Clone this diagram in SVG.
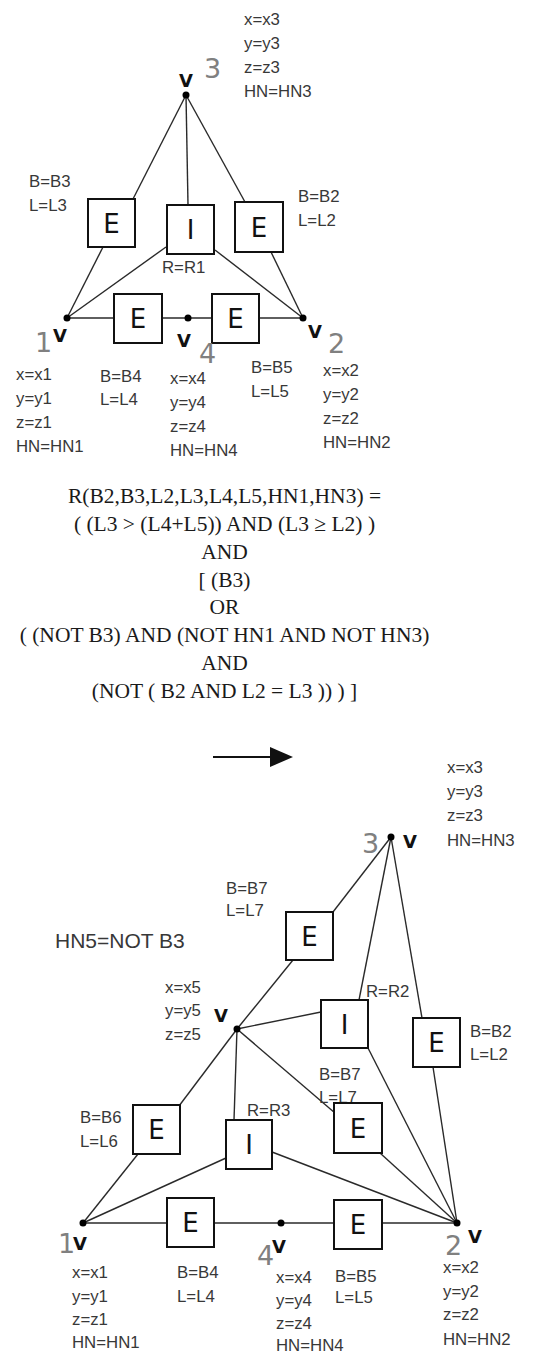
<svg xmlns="http://www.w3.org/2000/svg" width="555" height="1354" viewBox="0 0 555 1354">
  <style>
    .edge { stroke: #2a2a2a; stroke-width: 1.4; fill: none; }
    .box { fill: #ffffff; stroke: #111111; stroke-width: 2; }
    .glyph { font-family: "DejaVu Sans", sans-serif; font-size: 26px; fill: #111111; text-anchor: middle; }
    .attr { font-family: "Liberation Sans", Arial, sans-serif; font-size: 16.8px; fill: #383838; }
    .vtx { font-family: "DejaVu Sans", sans-serif; font-size: 18px; font-weight: bold; fill: #111111; text-anchor: middle; }
    .num { font-family: "DejaVu Sans", sans-serif; font-size: 27px; fill: #808080; }
    .dot { fill: #000000; }
    .rule { font-family: "Liberation Serif", "Times New Roman", serif; font-size: 21.5px; fill: #1a1a1a; text-anchor: middle; }
  </style>

  <!-- ===== Left-hand side of the production ===== -->
  <g id="lhs-edges">
    <line class="edge" x1="186" y1="95" x2="133" y2="199"/>
    <line class="edge" x1="186" y1="95" x2="188" y2="205"/>
    <line class="edge" x1="186" y1="95" x2="245" y2="202"/>
    <line class="edge" x1="103" y1="247" x2="67" y2="318"/>
    <line class="edge" x1="166" y1="247" x2="67" y2="318"/>
    <line class="edge" x1="215" y1="250" x2="303" y2="318"/>
    <line class="edge" x1="271" y1="252" x2="303" y2="318"/>
    <line class="edge" x1="67" y1="318" x2="303" y2="318"/>
  </g>

  <g id="lhs-v3">
    <circle class="dot" cx="186" cy="95" r="3.5"/>
    <text class="vtx" x="186" y="87">V</text>
    <text class="num" x="204" y="78">3</text>
    <text class="attr" x="244" y="25">x=x3</text>
    <text class="attr" x="244" y="49">y=y3</text>
    <text class="attr" x="244" y="73">z=z3</text>
    <text class="attr" x="244" y="97">HN=HN3</text>
  </g>

  <g id="lhs-e3">
    <rect class="box" x="88" y="199" width="47" height="48"/>
    <text class="glyph" x="111.5" y="232.5">E</text>
    <text class="attr" x="29" y="187">B=B3</text>
    <text class="attr" x="29" y="211">L=L3</text>
  </g>

  <g id="lhs-i1">
    <rect class="box" x="167" y="205" width="47" height="49"/>
    <text class="glyph" x="190.5" y="239">I</text>
    <text class="attr" x="162" y="273">R=R1</text>
  </g>

  <g id="lhs-e2">
    <rect class="box" x="235" y="202" width="48" height="50"/>
    <text class="glyph" x="259" y="236.5">E</text>
    <text class="attr" x="298" y="202">B=B2</text>
    <text class="attr" x="298" y="226">L=L2</text>
  </g>

  <g id="lhs-e4">
    <rect class="box" x="114" y="294" width="48" height="49"/>
    <text class="glyph" x="138" y="328">E</text>
    <text class="attr" x="100" y="382">B=B4</text>
    <text class="attr" x="100" y="405">L=L4</text>
  </g>

  <g id="lhs-e5">
    <rect class="box" x="212" y="294" width="47" height="49"/>
    <text class="glyph" x="235.5" y="328">E</text>
    <text class="attr" x="251" y="373">B=B5</text>
    <text class="attr" x="251" y="397">L=L5</text>
  </g>

  <g id="lhs-v1">
    <circle class="dot" cx="67" cy="318" r="3.5"/>
    <text class="vtx" x="60" y="342">V</text>
    <text class="num" x="35" y="352">1</text>
    <text class="attr" x="16" y="380">x=x1</text>
    <text class="attr" x="16" y="404">y=y1</text>
    <text class="attr" x="16" y="428">z=z1</text>
    <text class="attr" x="16" y="452">HN=HN1</text>
  </g>

  <g id="lhs-v4">
    <circle class="dot" cx="188" cy="318" r="3.5"/>
    <text class="vtx" x="184" y="347">V</text>
    <text class="num" x="199" y="363">4</text>
    <text class="attr" x="170" y="384">x=x4</text>
    <text class="attr" x="170" y="408">y=y4</text>
    <text class="attr" x="170" y="432">z=z4</text>
    <text class="attr" x="170" y="456">HN=HN4</text>
  </g>

  <g id="lhs-v2">
    <circle class="dot" cx="303" cy="318" r="3.5"/>
    <text class="vtx" x="315" y="338">V</text>
    <text class="num" x="328" y="353">2</text>
    <text class="attr" x="323" y="376">x=x2</text>
    <text class="attr" x="323" y="400">y=y2</text>
    <text class="attr" x="323" y="424">z=z2</text>
    <text class="attr" x="323" y="448">HN=HN2</text>
  </g>

  <!-- ===== Applicability predicate ===== -->
  <g id="predicate">
    <text class="rule" x="224.5" y="503">R(B2,B3,L2,L3,L4,L5,HN1,HN3) =</text>
    <text class="rule" x="224.5" y="531">( (L3 &gt; (L4+L5)) AND (L3 ≥ L2) )</text>
    <text class="rule" x="224.5" y="559">AND</text>
    <text class="rule" x="224.5" y="587">[ (B3)</text>
    <text class="rule" x="224.5" y="614">OR</text>
    <text class="rule" x="224.5" y="642">( (NOT B3) AND (NOT HN1 AND NOT HN3)</text>
    <text class="rule" x="224.5" y="670">AND</text>
    <text class="rule" x="224.5" y="698">(NOT ( B2 AND L2 = L3 )) ) ]</text>
  </g>

  <!-- production arrow -->
  <g id="arrow">
    <line x1="213" y1="757" x2="272" y2="757" stroke="#111111" stroke-width="2"/>
    <polygon points="270,747 293,757 270,767" fill="#111111"/>
  </g>

  <!-- ===== Right-hand side of the production ===== -->
  <g id="rhs-edges">
    <line class="edge" x1="391" y1="837" x2="333" y2="912"/>
    <line class="edge" x1="391" y1="837" x2="359" y2="1000"/>
    <line class="edge" x1="391" y1="837" x2="422" y2="1018"/>
    <line class="edge" x1="293" y1="960" x2="237" y2="1029"/>
    <line class="edge" x1="237" y1="1029" x2="321" y2="1012"/>
    <line class="edge" x1="237" y1="1029" x2="335" y2="1113"/>
    <line class="edge" x1="237" y1="1029" x2="234" y2="1120"/>
    <line class="edge" x1="237" y1="1029" x2="179" y2="1106"/>
    <line class="edge" x1="368" y1="1048" x2="457" y2="1223"/>
    <line class="edge" x1="433" y1="1067" x2="457" y2="1223"/>
    <line class="edge" x1="138" y1="1154" x2="83" y2="1223"/>
    <line class="edge" x1="226" y1="1158" x2="83" y2="1223"/>
    <line class="edge" x1="272" y1="1152" x2="457" y2="1223"/>
    <line class="edge" x1="380" y1="1153" x2="457" y2="1223"/>
    <line class="edge" x1="83" y1="1223" x2="457" y2="1223"/>
  </g>

  <text class="attr" x="55" y="948" style="font-size:21px">HN5=NOT B3</text>

  <g id="rhs-v3">
    <circle class="dot" cx="391" cy="837" r="3.5"/>
    <text class="vtx" x="410" y="848">V</text>
    <text class="num" x="362" y="853">3</text>
    <text class="attr" x="447" y="773">x=x3</text>
    <text class="attr" x="447" y="797">y=y3</text>
    <text class="attr" x="447" y="821">z=z3</text>
    <text class="attr" x="447" y="846">HN=HN3</text>
  </g>

  <g id="rhs-e7a">
    <rect class="box" x="286" y="912" width="47" height="48"/>
    <text class="glyph" x="309.5" y="945.5">E</text>
    <text class="attr" x="226" y="894">B=B7</text>
    <text class="attr" x="226" y="916">L=L7</text>
  </g>

  <g id="rhs-v5">
    <circle class="dot" cx="237" cy="1029" r="3.5"/>
    <text class="vtx" x="221" y="1022">V</text>
    <text class="attr" x="165" y="993">x=x5</text>
    <text class="attr" x="165" y="1016">y=y5</text>
    <text class="attr" x="165" y="1040">z=z5</text>
  </g>

  <g id="rhs-i2">
    <rect class="box" x="321" y="1000" width="47" height="48"/>
    <text class="glyph" x="344.5" y="1033.5">I</text>
    <text class="attr" x="366" y="997">R=R2</text>
  </g>

  <g id="rhs-e2">
    <rect class="box" x="413" y="1018" width="47" height="49"/>
    <text class="glyph" x="436.5" y="1052">E</text>
    <text class="attr" x="470" y="1037">B=B2</text>
    <text class="attr" x="470" y="1060">L=L2</text>
  </g>

  <g id="rhs-e7b">
    <text class="attr" x="319" y="1080">B=B7</text>
    <text class="attr" x="319" y="1103">L=L7</text>
    <rect class="box" x="334" y="1103" width="48" height="50"/>
    <text class="glyph" x="358" y="1137.5">E</text>
  </g>

  <g id="rhs-e6">
    <rect class="box" x="133" y="1105" width="47" height="49"/>
    <text class="glyph" x="156.5" y="1139">E</text>
    <text class="attr" x="80" y="1123">B=B6</text>
    <text class="attr" x="80" y="1147">L=L6</text>
  </g>

  <g id="rhs-i3">
    <rect class="box" x="226" y="1120" width="46" height="49"/>
    <text class="glyph" x="249" y="1154">I</text>
    <text class="attr" x="247" y="1116">R=R3</text>
  </g>

  <g id="rhs-e4">
    <rect class="box" x="167" y="1198" width="47" height="49"/>
    <text class="glyph" x="190.5" y="1232">E</text>
    <text class="attr" x="177" y="1278">B=B4</text>
    <text class="attr" x="177" y="1302">L=L4</text>
  </g>

  <g id="rhs-e5">
    <rect class="box" x="334" y="1200" width="48" height="49"/>
    <text class="glyph" x="358" y="1234">E</text>
    <text class="attr" x="335" y="1282">B=B5</text>
    <text class="attr" x="335" y="1303">L=L5</text>
  </g>

  <g id="rhs-v1">
    <circle class="dot" cx="83" cy="1223" r="3.5"/>
    <text class="vtx" x="80" y="1250">V</text>
    <text class="num" x="58" y="1253">1</text>
    <text class="attr" x="72" y="1278">x=x1</text>
    <text class="attr" x="72" y="1302">y=y1</text>
    <text class="attr" x="72" y="1325">z=z1</text>
    <text class="attr" x="72" y="1348">HN=HN1</text>
  </g>

  <g id="rhs-v4">
    <circle class="dot" cx="281" cy="1223" r="3.5"/>
    <text class="vtx" x="279" y="1253">V</text>
    <text class="num" x="257" y="1265">4</text>
    <text class="attr" x="276" y="1283">x=x4</text>
    <text class="attr" x="276" y="1306">y=y4</text>
    <text class="attr" x="276" y="1329">z=z4</text>
    <text class="attr" x="276" y="1351">HN=HN4</text>
  </g>

  <g id="rhs-v2">
    <circle class="dot" cx="457" cy="1223" r="3.5"/>
    <text class="vtx" x="475" y="1243">V</text>
    <text class="num" x="445" y="1255">2</text>
    <text class="attr" x="443" y="1273">x=x2</text>
    <text class="attr" x="443" y="1297">y=y2</text>
    <text class="attr" x="443" y="1320">z=z2</text>
    <text class="attr" x="443" y="1345">HN=HN2</text>
  </g>
</svg>
